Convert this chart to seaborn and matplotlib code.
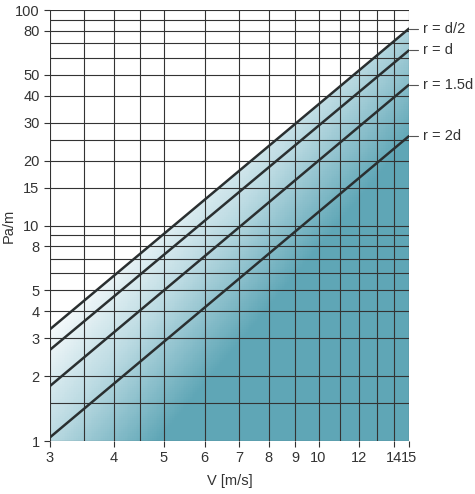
import numpy as np
import matplotlib
matplotlib.use("Agg")
import matplotlib.pyplot as plt
import seaborn as sns
from matplotlib.colors import LinearSegmentedColormap
from matplotlib.patches import Polygon

sns.set_style("white")
plt.rcParams["font.family"] = ["Liberation Sans", "DejaVu Sans"]

# ── Data ─────────────────────────────────────────────
v_ends = [3, 15]
curves = ["r = d/2", "r = d", "r = 1.5d", "r = 2d"]
pa_start = [3.3, 2.65, 1.8, 1.04]
pa_end = [82, 65, 45, 26]

x_grid = [3, 3.5, 4, 4.5, 5, 6, 7, 8, 9, 10, 11, 12, 13, 14, 15]
y_grid = [1, 1.5, 2, 3, 4, 5, 6, 7, 8, 9, 10, 15, 20, 25, 30, 40, 50, 60, 70, 80, 90, 100]
x_ticks = [3, 4, 5, 6, 7, 8, 9, 10, 12, 14, 15]
y_ticks = [1, 2, 3, 4, 5, 8, 10, 15, 20, 30, 40, 50, 80, 100]

DARK = "#5fa6b6"
LINE = "#2a2f30"

fig = plt.figure(figsize=(4.75, 4.94), dpi=100)
ax = fig.add_axes([50 / 475, 1 - 441 / 494, 359 / 475, 431 / 494])
ax.set_xscale("log")
ax.set_yscale("log")
ax.set_xlim(3, 15)
ax.set_ylim(1, 100)

# gradient fill below the top curve (built in data coords on log axes)
n = 200
gx_ = np.geomspace(3, 15, n)
gy_ = np.geomspace(1, 100, n)
XX, YY = np.meshgrid(gx_, gy_)
xf = np.log(XX / 3) / np.log(5)
yf = np.log10(YY) / 2
t = np.clip((xf - yf + 0.3) / 0.6, 0, 1)
cmap = LinearSegmentedColormap.from_list("g", ["#ffffff", "#b9d9e1", DARK])
mesh = ax.pcolormesh(XX, YY, t, cmap=cmap, shading="auto", vmin=0, vmax=1, zorder=0)
poly = Polygon([(3, pa_start[0]), (15, pa_end[0]), (15, 1), (3, 1)],
               closed=True, transform=ax.transData, facecolor="none", edgecolor="none")
ax.add_patch(poly)
mesh.set_clip_path(poly)

for gx in x_grid:
    ax.axvline(gx, color="#333333", lw=0.8, zorder=1)
for gy in y_grid:
    ax.axhline(gy, color="#333333", lw=0.8, zorder=1)

for name, a, b in zip(curves, pa_start, pa_end):
    sns.lineplot(x=v_ends, y=[a, b], ax=ax, color=LINE, lw=1.8, zorder=3)
    ax.plot([1.0, 1.025], [b, b], transform=ax.get_yaxis_transform(), color="#555555",
            lw=0.8, clip_on=False)
    ax.text(1.04, b, name, transform=ax.get_yaxis_transform(), va="center", ha="left",
            fontsize=10.5, color="#333333")

ax.set_xlim(3, 15)
ax.set_ylim(1, 100)
ax.set_xticks(x_ticks)
ax.set_xticklabels([str(x) for x in x_ticks])
ax.set_yticks(y_ticks)
ax.set_yticklabels([str(y) for y in y_ticks])
ax.minorticks_off()
ax.tick_params(axis="both", length=4, width=0.8, color="#333333", labelsize=10.5,
               labelcolor="#333333", direction="out", bottom=True, left=True)
for s in ax.spines.values():
    s.set_visible(False)
ax.set_xlabel("V [m/s]", fontsize=10.5, color="#333333", labelpad=6)
ax.set_ylabel("Pa/m", fontsize=10.5, color="#333333")
ax.yaxis.set_label_coords(-0.095, 0.5)

fig.savefig("out.png", dpi=100)
